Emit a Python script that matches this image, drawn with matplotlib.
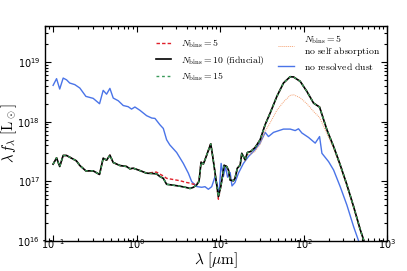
import matplotlib
matplotlib.use('Agg')
import matplotlib.pyplot as plt
from matplotlib.font_manager import FontProperties

# wavelength grid (micron) shared by the N_bins runs
lam = [0.1, 0.110, 0.120, 0.132, 0.145, 0.166, 0.19, 0.209, 0.247, 0.302,
       0.36, 0.398, 0.437, 0.479, 0.525, 0.631, 0.759, 0.83, 0.912, 1.096,
       1.318, 1.585, 1.73, 1.905, 2.089, 2.29, 2.75, 3.31, 3.98, 4.37,
       4.79, 5.25, 5.6, 5.92, 6.31, 6.6, 7.73, 8.17, 8.95, 9.55,
       10.2, 10.76, 11.17, 12.0, 12.6, 13.2, 14.45, 15.1, 16.1, 17.4,
       18.2, 19.05, 19.95, 21.3, 23.3, 26.3, 30.2, 34.7, 39.8, 47.9,
       57.5, 69.2, 75.9, 91.2, 109.6, 131.8, 155.6, 190.5, 229, 275,
       331, 398, 479, 575]

# log10(lambda f_lambda / Lsun)
fid = [17.287, 17.393, 17.248, 17.433, 17.433, 17.388, 17.343, 17.265, 17.175, 17.175,
       17.115, 17.388, 17.354, 17.438, 17.315, 17.265, 17.248, 17.21, 17.22, 17.18,
       17.136, 17.13, 17.125, 17.08, 17.05, 16.95, 16.935, 16.918, 16.895, 16.88,
       16.90, 16.94, 17.0, 17.32, 17.29, 17.36, 17.628, 17.416, 17.02, 16.744,
       16.91, 17.108, 17.27, 17.248, 17.19, 17.02, 17.01, 17.05, 17.22, 17.27,
       17.47, 17.416, 17.36, 17.483, 17.5, 17.567, 17.696, 17.95, 18.143, 18.423,
       18.647, 18.753, 18.748, 18.675, 18.507, 18.311, 18.244, 17.863, 17.584, 17.276,
       16.94, 16.576, 16.185, 15.85]

nb5 = [17.287, 17.393, 17.248, 17.433, 17.433, 17.388, 17.343, 17.265, 17.175, 17.175,
       17.115, 17.388, 17.354, 17.438, 17.315, 17.265, 17.248, 17.21, 17.22, 17.18,
       17.136, 17.15, 17.155, 17.12, 17.09, 17.05, 17.03, 17.01, 16.98, 16.97,
       16.95, 16.96, 17.0, 17.32, 17.29, 17.36, 17.628, 17.416, 17.02, 16.70,
       16.91, 17.108, 17.27, 17.248, 17.19, 17.02, 17.01, 17.05, 17.22, 17.27,
       17.47, 17.416, 17.36, 17.483, 17.5, 17.567, 17.696, 17.95, 18.143, 18.423,
       18.647, 18.753, 18.748, 18.675, 18.507, 18.311, 18.244, 17.863, 17.584, 17.276,
       16.94, 16.576, 16.185, 15.85]

nb15 = [17.287, 17.393, 17.248, 17.433, 17.433, 17.388, 17.343, 17.265, 17.175, 17.175,
        17.115, 17.388, 17.354, 17.438, 17.315, 17.265, 17.248, 17.21, 17.22, 17.18,
        17.136, 17.13, 17.125, 17.08, 17.05, 16.95, 16.935, 16.918, 16.895, 16.88,
        16.90, 16.94, 17.0, 17.32, 17.29, 17.36, 17.628, 17.416, 17.02, 16.744,
        16.91, 17.108, 17.27, 17.248, 17.19, 17.02, 17.01, 17.05, 17.22, 17.27,
        17.47, 17.416, 17.36, 17.483, 17.5, 17.567, 17.696, 17.95, 18.143, 18.423,
        18.647, 18.753, 18.748, 18.675, 18.507, 18.311, 18.244, 17.863, 17.584, 17.276,
        16.94, 16.576, 16.185, 15.85]

noself = [17.287, 17.393, 17.248, 17.433, 17.433, 17.388, 17.343, 17.265, 17.175, 17.175,
          17.115, 17.388, 17.354, 17.438, 17.315, 17.265, 17.248, 17.21, 17.22, 17.18,
          17.136, 17.13, 17.125, 17.08, 17.05, 16.95, 16.935, 16.918, 16.895, 16.88,
          16.90, 16.94, 17.0, 17.32, 17.29, 17.36, 17.628, 17.416, 17.02, 16.744,
          16.91, 17.108, 17.27, 17.248, 17.19, 17.02, 17.01, 17.05, 17.22, 17.27,
          17.45, 17.40, 17.34, 17.45, 17.46, 17.50, 17.62, 17.84, 17.98, 18.19,
          18.33, 18.44, 18.45, 18.40, 18.30, 18.17, 18.07, 17.80, 17.55, 17.245,
          16.91, 16.55, 16.17, 15.84]

lam_nores = [0.1, 0.110, 0.120, 0.132, 0.145, 0.158, 0.182, 0.209, 0.247, 0.302,
             0.36, 0.398, 0.437, 0.479, 0.525, 0.603, 0.692, 0.794, 0.87, 0.955,
             1.096, 1.318, 1.52, 1.66, 1.905, 2.09, 2.29, 2.5, 3.02, 3.63,
             4.17, 4.57, 5.25, 6.03, 6.6, 7.24, 7.94, 8.71, 9.12, 9.7,
             10.3, 10.96, 11.6, 12.3, 13.2, 13.9, 15.1, 16.6, 19.05, 21.9,
             25.1, 30.2, 34.7, 38.0, 43.7, 57.5, 69.2, 79.4, 87.0, 95.5,
             114.8, 138, 155.6, 166, 199.5, 229, 275, 331, 398, 457, 525]
nores = [18.608, 18.72, 18.546, 18.73, 18.70, 18.647, 18.62, 18.563, 18.423, 18.39,
         18.30, 18.524, 18.46, 18.557, 18.395, 18.35, 18.27, 18.25, 18.21, 18.245,
         18.19, 18.10, 18.06, 18.054, 17.947, 17.886, 17.696, 17.61, 17.483, 17.30,
         17.136, 16.996, 16.912, 16.90, 16.91, 16.867, 16.91, 17.08, 16.98, 16.77,
         17.30, 17.08, 17.248, 17.07, 17.147, 16.923, 16.98, 17.136, 17.30, 17.416,
         17.5, 17.64, 17.82, 17.75, 17.82, 17.875, 17.875, 17.85, 17.88, 17.81,
         17.735, 17.64, 17.75, 17.47, 17.33, 17.19, 16.91, 16.60, 16.24, 16.0, 15.74]

labels = [r'$N_{\rm bins}=5$', r'$N_{\rm bins}=10\ \mathrm{(fiducial)}$', r'$N_{\rm bins}=15$',
          r'$N_{\rm bins}=5$' + '\n' + r'$\mathrm{no\ self\ absorption}$',
          r'$\mathrm{no\ resolved\ dust}$']

fig = plt.figure(figsize=(4.07, 2.71), dpi=100)
ax = fig.add_axes([0.1106, 0.1107, 0.8403, 0.7933])

def p(v):
    return [10 ** x for x in v]

l_nores, = ax.plot(lam_nores, p(nores), color='#4a74e8', lw=1.0)
l_noself, = ax.plot(lam, p(noself), color='#f4a070', lw=0.7, ls=(0, (1, 1)))
l_nb5, = ax.plot(lam, p(nb5), color='#e0202a', lw=1.0, ls=(0, (2.5, 1.5)))
l_fid, = ax.plot(lam, p(fid), color='black', lw=1.2)
l_nb15, = ax.plot(lam, p(nb15), color='#3a9a5a', lw=1.0, ls=(0, (2, 2)))

ax.set_xscale('log')
ax.set_yscale('log')
ax.set_xlim(0.08, 1000)
ax.set_ylim(1e16, 4e19)

ax.tick_params(which='both', direction='in', top=True, right=True, labelsize=7, width=0.8)
ax.tick_params(which='major', length=4)
ax.tick_params(which='minor', length=2)
ax.tick_params(axis='x', pad=-2.5)
ax.tick_params(axis='y', pad=3.5)
for s in ax.spines.values():
    s.set_linewidth(1.0)

ax.set_xlabel(r'$\lambda\ [\mu\mathrm{m}]$', fontsize=11, math_fontfamily='cm', labelpad=-0.5)
ax.set_ylabel(r'$\lambda\, f_\lambda\ [\mathrm{L}_\odot]$', fontsize=10.5, math_fontfamily='cm', labelpad=-1.5)

fp = FontProperties(size=7, math_fontfamily='cm')
leg1 = ax.legend([l_nb5, l_fid, l_nb15], labels[:3], loc='upper left',
                 bbox_to_anchor=(0.31, 0.97), frameon=False, prop=fp,
                 handlelength=1.6, handletextpad=1.0, borderpad=0, labelspacing=0.4)
ax.add_artist(leg1)
leg2 = ax.legend([l_noself, l_nores], labels[3:], loc='upper left',
                 bbox_to_anchor=(0.668, 0.99), frameon=False, prop=fp,
                 handlelength=1.6, handletextpad=1.0, borderpad=0, labelspacing=0.25)
leg2.get_texts()[0].set_linespacing(0.95)

fig.savefig('out.png', dpi=100)
